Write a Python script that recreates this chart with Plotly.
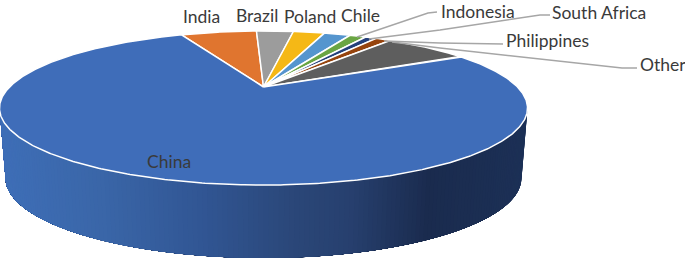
import math
import plotly.graph_objects as go

# --- data (percent share, clockwise) ---
categories = ["India", "Brazil", "Poland", "Chile", "Indonesia", "South Africa", "Philippines", "Other", "China"]
values = [6.05, 2.95, 2.5, 2.1, 1.3, 0.9, 1.2, 6.6, 76.4]
colors = ["#E0752F", "#9C9C9C", "#F5B816", "#5595CE", "#6AA543", "#24407A", "#96440E", "#5E5E5E", "#3F6DB9"]
first_angle = -23.8

# --- projection of the tilted disc (pixel axes) ---
W, H = 685, 259
CX, APEX_Y, SX, SY, K = 263.5, 87.0, 254.0, 71.3, 0.273
TOP = (263.5, 108.0, 264.0, 77.0)
BOTTOM = (263.5, 178.0, 258.0, 80.0)
wall_stops = [(0, (62, 110, 183)), (100, (58, 102, 168)), (200, (49, 86, 148)), (300, (42, 70, 119)),
              (350, (39, 64, 111)), (430, (26, 43, 78)), (527, (28, 48, 86))]
TEXT = "#3A3A3A"
LEADER = "#A6A6A6"


def project(deg):
    t = math.radians(deg)
    d = 1 + K * math.cos(t)
    return CX + SX * math.sin(t) / d, APEX_Y - SY * math.cos(t) / d


def wall_color(x):
    for (x0, c0), (x1, c1) in zip(wall_stops, wall_stops[1:]):
        if x <= x1:
            f = max(0.0, (x - x0) / (x1 - x0))
            return "rgb(%d,%d,%d)" % tuple(round(a + (b - a) * f) for a, b in zip(c0, c1))
    return "rgb(%d,%d,%d)" % wall_stops[-1][1]


def ell(e, t):
    return e[0] + e[2] * math.cos(t), e[1] + e[3] * math.sin(t)


fig = go.Figure()

# side wall: overlapping strips from the right round to the left, each one
# reaching to the far end so no seams can show between neighbours
N = 160
for i in range(N):
    t0 = math.pi * i / N
    ts = [t0 + (math.pi - t0) * j / 40 for j in range(41)]
    upper = [ell(TOP, t) for t in ts]
    lower = [ell(BOTTOM, t) for t in ts[::-1]]
    ring = upper + lower + [upper[0]]
    col = wall_color(ell(TOP, t0 + math.pi / (2 * N))[0])
    fig.add_trace(go.Scatter(x=[p[0] for p in ring], y=[p[1] for p in ring],
                             mode="lines", fill="toself", fillcolor=col,
                             line=dict(width=0), hoverinfo="skip", showlegend=False))

# top face slices
total = sum(values)
start = first_angle
for i in range(len(values)):
    sweep = 360 * values[i] / total
    n = max(4, int(sweep * 2))
    pts = [project(start + sweep * j / n) for j in range(n + 1)]
    xs = [CX] + [p[0] for p in pts] + [CX]
    ys = [APEX_Y] + [p[1] for p in pts] + [APEX_Y]
    fig.add_trace(go.Scatter(x=xs, y=ys, mode="lines", fill="toself", fillcolor=colors[i], name=categories[i],
                             line=dict(color="white", width=1.5), hoverinfo="name", showlegend=False))
    start += sweep

leaders = [
    "M 437 12 L 428 13 L 357 37",
    "M 550 15 L 540 15 L 440 30 L 369 39",
    "M 503 44 L 440 43 L 384 41",
    "M 637 68 L 622 68 L 440 48 L 392 42",
]
shapes = [dict(type="path", path=p, line=dict(color=LEADER, width=1.4), xref="x", yref="y") for p in leaders]

label_pos = {
    "India": (201, 16, "center"), "Brazil": (257, 15, "center"), "Poland": (310, 16, "center"),
    "Chile": (360, 15, "center"), "Indonesia": (441, 11, "left"), "South Africa": (552, 12, "left"),
    "Philippines": (506, 40, "left"), "Other": (640, 64, "left"), "China": (169, 161, "center"),
}
annotations = [dict(x=x, y=y, text=k, xref="x", yref="y", showarrow=False, xanchor=an, yanchor="middle",
                    font=dict(family="Lato", size=17.5, color=TEXT), borderpad=0, borderwidth=0)
               for k, (x, y, an) in label_pos.items()]

fig.update_layout(
    width=W, height=H, margin=dict(l=0, r=0, t=0, b=0), paper_bgcolor="white", plot_bgcolor="white",
    xaxis=dict(range=[0, W], visible=False, fixedrange=True),
    yaxis=dict(range=[H, 0], visible=False, fixedrange=True),
    shapes=shapes, annotations=annotations, showlegend=False,
)
fig.write_html("out.html", config=dict(displayModeBar=False),
               post_script="document.body.style.margin='0';")
